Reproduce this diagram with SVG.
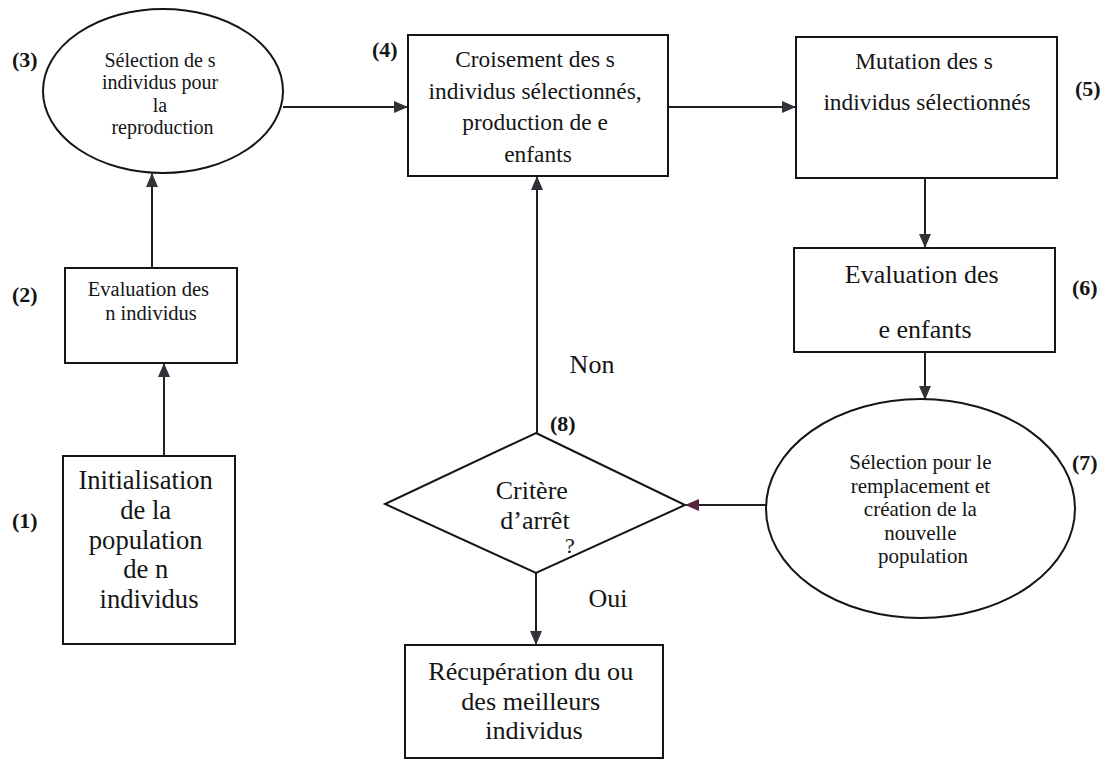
<svg xmlns="http://www.w3.org/2000/svg" width="1109" height="760" viewBox="0 0 1109 760">
  <style>
    .shape { fill: #ffffff; stroke: #151515; stroke-width: 2; }
    .txt { font-family: "Liberation Serif", "Times New Roman", serif; fill: #151515; text-anchor: middle; }
    .num { font-family: "Liberation Serif", "Times New Roman", serif; font-weight: bold; fill: #151515; font-size: 22px; }
    .link { fill: none; stroke: #202020; stroke-width: 2; }
  </style>
  <defs>
    <marker id="arrow" viewBox="0 0 14 12" refX="13" refY="6" markerWidth="14" markerHeight="12" markerUnits="userSpaceOnUse" orient="auto">
      <path d="M0,0 L14,6 L0,12 Z" fill="#2f3338"/>
    </marker>
    <marker id="arrowPurple" viewBox="0 0 14 12" refX="13" refY="6" markerWidth="14" markerHeight="12" markerUnits="userSpaceOnUse" orient="auto">
      <path d="M0,0 L14,6 L0,12 Z" fill="#5a2340"/>
    </marker>
  </defs>
  <rect width="1109" height="760" fill="#ffffff"/>

  <!-- connectors -->
  <g id="connectors">
    <line class="link" x1="164" y1="456" x2="164" y2="364" marker-end="url(#arrow)"/>
    <line class="link" x1="152" y1="268" x2="152" y2="174" marker-end="url(#arrow)"/>
    <line class="link" x1="283" y1="107" x2="407" y2="107" stroke="#4a2a2a" marker-end="url(#arrow)"/>
    <line class="link" x1="668" y1="107" x2="795" y2="107" marker-end="url(#arrow)"/>
    <line class="link" x1="925" y1="178" x2="925" y2="247" marker-end="url(#arrow)"/>
    <line class="link" x1="925" y1="352" x2="925" y2="399" marker-end="url(#arrow)"/>
    <line class="link" x1="770" y1="505" x2="686" y2="505" stroke="#5a2340" stroke-width="3" marker-end="url(#arrowPurple)"/>
    <line class="link" x1="537" y1="433" x2="537" y2="177" marker-end="url(#arrow)"/>
    <line class="link" x1="536" y1="573" x2="536" y2="644" marker-end="url(#arrow)"/>
    <text class="txt" x="592" y="373" font-size="26">Non</text>
    <text class="txt" x="608" y="607" font-size="26">Oui</text>
  </g>

  <!-- (1) initialisation -->
  <g id="node1">
    <rect class="shape" x="63" y="456" width="172" height="188"/>
    <text class="txt" font-size="26.6">
      <tspan x="149" y="489">Initialisation</tspan>
      <tspan x="149" y="519">de la</tspan>
      <tspan x="149" y="548.5">population</tspan>
      <tspan x="149" y="578">de n</tspan>
      <tspan x="149" y="607.5">individus</tspan>
    </text>
    <text class="num" x="12" y="528">(1)</text>
  </g>

  <!-- (2) evaluation -->
  <g id="node2">
    <rect class="shape" x="65" y="268" width="172" height="95"/>
    <text class="txt" font-size="20.5">
      <tspan x="151" y="296">Evaluation des</tspan>
      <tspan x="151" y="320">n individus</tspan>
    </text>
    <text class="num" x="12" y="302">(2)</text>
  </g>

  <!-- (3) selection -->
  <g id="node3">
    <ellipse class="shape" cx="163" cy="91" rx="120" ry="82"/>
    <text class="txt" font-size="20">
      <tspan x="162.5" y="67">Sélection de s</tspan>
      <tspan x="162.5" y="89.3">individus pour</tspan>
      <tspan x="162.5" y="111.6">la</tspan>
      <tspan x="162.5" y="133.9">reproduction</tspan>
    </text>
    <text class="num" x="12" y="67">(3)</text>
  </g>

  <!-- (4) croisement -->
  <g id="node4">
    <rect class="shape" x="408" y="35" width="260" height="141"/>
    <text class="txt" font-size="23.4">
      <tspan x="538" y="67">Croisement des s</tspan>
      <tspan x="538" y="99">individus sélectionnés,</tspan>
      <tspan x="538" y="130">production de e</tspan>
      <tspan x="538" y="162">enfants</tspan>
    </text>
    <text class="num" x="372" y="57">(4)</text>
  </g>

  <!-- (5) mutation -->
  <g id="node5">
    <rect class="shape" x="796" y="37" width="261" height="141"/>
    <text class="txt" font-size="23.4">
      <tspan x="927" y="69">Mutation des s</tspan>
      <tspan x="927" y="110">individus sélectionnés</tspan>
    </text>
    <text class="num" x="1075" y="96">(5)</text>
  </g>

  <!-- (6) evaluation enfants -->
  <g id="node6">
    <rect class="shape" x="794" y="248" width="261" height="104"/>
    <text class="txt" font-size="26">
      <tspan x="925" y="283">Evaluation des</tspan>
      <tspan x="925" y="338">e enfants</tspan>
    </text>
    <text class="num" x="1072" y="295">(6)</text>
  </g>

  <!-- (7) remplacement -->
  <g id="node7">
    <ellipse class="shape" cx="920.5" cy="508.5" rx="154.5" ry="109.5"/>
    <text class="txt" font-size="21">
      <tspan x="923" y="469">Sélection pour le</tspan>
      <tspan x="923" y="492.5">remplacement et</tspan>
      <tspan x="923" y="516">création de la</tspan>
      <tspan x="923" y="539.5">nouvelle</tspan>
      <tspan x="923" y="563">population</tspan>
    </text>
    <text class="num" x="1072" y="470">(7)</text>
  </g>

  <!-- (8) critere d'arret -->
  <g id="node8">
    <polygon class="shape" points="536,433 685,505 536,573 385,504"/>
    <text class="txt" font-size="26">
      <tspan x="535" y="499">Critère</tspan>
      <tspan x="535" y="529">d’arrêt</tspan>
    </text>
    <text class="txt" x="570" y="553" font-size="22">?</text>
    <text class="num" x="550" y="431">(8)</text>
  </g>

  <!-- result -->
  <g id="node9">
    <rect class="shape" x="405" y="645" width="258" height="113"/>
    <text class="txt" font-size="26.2">
      <tspan x="534" y="680">Récupération du ou</tspan>
      <tspan x="534" y="710">des meilleurs</tspan>
      <tspan x="534" y="739">individus</tspan>
    </text>
  </g>
</svg>
